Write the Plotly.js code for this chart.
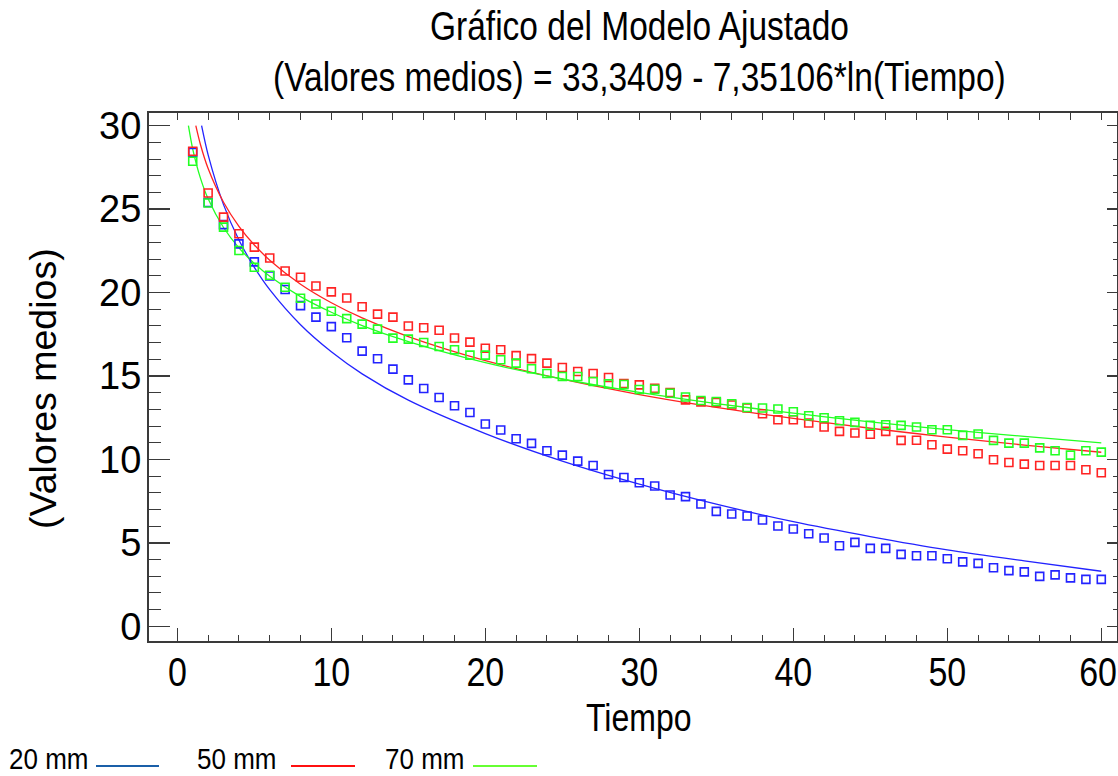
<!DOCTYPE html>
<html>
<head>
<meta charset="utf-8">
<script src="https://cdn.plot.ly/plotly-3.0.1.min.js"></script>
<style>html,body{margin:0;padding:0;background:#fff;}#chart{width:1118px;height:776px;}</style>
</head>
<body>
<div id="chart"></div>
<script>
// ---- data ----
const tiempo = [1,2,3,4,5,6,7,8,9,10,11,12,13,14,15,16,17,18,19,20,21,22,23,24,25,26,27,28,29,30,
  31,32,33,34,35,36,37,38,39,40,41,42,43,44,45,46,47,48,49,50,51,52,53,54,55,56,57,58,59,60];
const seriesNames = ["20 mm", "50 mm", "70 mm"];
const valores20 = [28.40,25.40,24.07,22.92,21.84,21.00,20.18,19.22,18.53,17.96,17.29,16.49,16.03,15.41,14.77,14.25,13.71,13.22,12.81,12.12,
  11.76,11.24,10.96,10.52,10.26,9.90,9.64,9.10,8.92,8.60,8.41,7.87,7.77,7.33,6.89,6.73,6.61,6.37,6.01,5.83,
  5.55,5.29,4.83,5.03,4.67,4.67,4.31,4.23,4.23,4.05,3.86,3.77,3.51,3.34,3.26,2.99,3.08,2.90,2.81,2.81];
const valores50 = [28.47,25.97,24.52,23.52,22.72,22.07,21.29,20.92,20.39,20.04,19.67,19.15,18.71,18.53,18.00,17.89,17.74,17.28,17.03,16.66,
  16.57,16.22,16.04,15.77,15.51,15.27,15.15,14.91,14.55,14.47,14.27,14.01,13.57,13.45,13.41,13.26,13.08,12.74,12.38,12.38,
  12.18,11.94,11.68,11.58,11.51,11.68,11.14,11.15,10.88,10.62,10.52,10.34,9.98,9.82,9.72,9.64,9.64,9.64,9.38,9.20];
const valores70 = [27.87,25.37,23.92,22.52,21.52,21.04,20.32,19.66,19.31,18.88,18.44,18.11,17.81,17.27,17.21,17.01,16.77,16.57,16.25,16.25,
  15.97,15.77,15.43,15.15,14.97,14.97,14.67,14.53,14.49,14.19,14.21,13.97,13.74,13.53,13.47,13.34,13.11,13.08,13.02,12.86,
  12.62,12.50,12.32,12.22,12.05,12.08,12.04,11.94,11.78,11.78,11.44,11.52,11.14,10.98,10.98,10.69,10.52,10.26,10.52,10.44];

// fitted curves, read at sample times
const ajusteT20 = [1.575,2,3,4,5,6,8,10,12,15,20,25,30,35,40,45,50,55,60];
const ajuste20  = [30.0,28.25,25.27,23.15,21.51,20.17,18.07,16.45,15.13,13.55,11.55,9.90,8.52,7.32,6.27,5.38,4.58,3.92,3.30];
const ajusteT50 = [1.2,1.5,2,3,4,5,6,8,10,12,15,20,25,30,35,40,45,50,55,60];
const ajuste50  = [30.0,28.87,27.43,25.41,23.97,22.85,21.94,20.50,19.39,18.48,17.36,15.92,14.81,13.89,13.12,12.46,11.87,11.34,10.86,10.43];
const ajusteT70 = [0.72,1,1.5,2,3,4,5,6,8,10,12,15,20,25,30,35,40,45,50,55,60];
const ajuste70  = [30.0,28.6,26.86,25.62,23.90,22.68,21.74,20.98,19.76,18.82,18.02,17.06,15.80,14.82,14.02,13.35,12.77,12.25,11.79,11.38,10.99];

const xTicks = [0,10,20,30,40,50,60];
const yTicks = [0,5,10,15,20,25,30];
const titulo1 = "Gráfico del Modelo Ajustado";
const titulo2 = "(Valores medios) = 33,3409 - 7,35106*ln(Tiempo)";
const tituloX = "Tiempo";
const tituloY = "(Valores medios)";

// ---- styling ----
const colores = ["#2323ff", "#ff2323", "#23ff23"];
const coloresLeyenda = ["#1a5fa8", "#ff1010", "#66ff33"];
const FONT = "'Liberation Sans', Arial, sans-serif";
const STRETCH = 1.2;        // the reference draws these texts tall and narrow
const STRETCH_LEG = 1.12;
const W = 1118, H = 776, L = 149, R = 1, T = 113, B = 135;
const PW = W - L - R, PH = H - T - B;
const fx = px => (px - L) / PW;
const fy = py => (H - B - py) / PH;

const lineTraces = [[ajusteT20, ajuste20], [ajusteT50, ajuste50], [ajusteT70, ajuste70]].map((d, i) => ({
  x: d[0], y: d[1], type: "scatter", mode: "lines", name: seriesNames[i],
  line: {color: colores[i], width: 1.3, shape: "spline", smoothing: 0.8},
  showlegend: false, hoverinfo: "skip"
}));
const markerTraces = [valores20, valores50, valores70].map((v, i) => ({
  x: tiempo, y: v, type: "scatter", mode: "markers", name: seriesNames[i],
  marker: {symbol: "square-open", size: 8, color: colores[i], line: {width: 1.6, color: colores[i]}},
  showlegend: false
}));
const dummy = {x: [], y: [], xaxis: "x2", yaxis: "y2", type: "scatter", mode: "markers", showlegend: false};

const axisColor = "#3a3a3a";
const layout = {
  width: W, height: H,
  margin: {l: L, r: R, t: T, b: B, pad: 0},
  paper_bgcolor: "#fff", plot_bgcolor: "#fff",
  showlegend: false,
  xaxis: {
    range: [-1.84, 61.02], tickvals: xTicks, ticktext: xTicks.map(String),
    ticks: "inside", ticklen: 13, tickwidth: 1.5, tickcolor: axisColor,
    minor: {dtick: 2, tick0: 0, ticks: "inside", ticklen: 6, tickwidth: 1, tickcolor: axisColor},
    showline: true, linecolor: axisColor, linewidth: 2, showgrid: false, zeroline: false,
    tickfont: {family: FONT, size: 34, color: "#000"}, ticklabelstandoff: 0, ticklabeloverflow: "allow"
  },
  yaxis: {
    range: [-0.88, 30.76], tickvals: yTicks, ticktext: yTicks.map(String),
    ticks: "inside", ticklen: 21, tickwidth: 1.5, tickcolor: axisColor,
    minor: {dtick: 1, tick0: 0, ticks: "inside", ticklen: 12, tickwidth: 1, tickcolor: axisColor},
    showline: true, linecolor: axisColor, linewidth: 2, showgrid: false, zeroline: false,
    tickfont: {family: FONT, size: 38, color: "#000"}, ticklabelstandoff: -2, ticklabeloverflow: "allow"
  },
  xaxis2: {
    overlaying: "x", side: "top", anchor: "y2", range: [-1.84, 61.02],
    tickvals: xTicks, ticks: "inside", ticklen: 7, tickwidth: 1.2, tickcolor: axisColor,
    minor: {dtick: 2, tick0: 0, ticks: "inside", ticklen: 7, tickwidth: 1, tickcolor: axisColor},
    showticklabels: false, showline: true, linecolor: axisColor, linewidth: 2, showgrid: false, zeroline: false
  },
  yaxis2: {
    overlaying: "y", side: "right", anchor: "x2", range: [-0.88, 30.76],
    tickvals: yTicks, ticks: "inside", ticklen: 10, tickwidth: 1.5, tickcolor: axisColor,
    minor: {dtick: 1, tick0: 0, ticks: "inside", ticklen: 4, tickwidth: 1, tickcolor: axisColor},
    showticklabels: false, showline: true, linecolor: axisColor, linewidth: 2, showgrid: false, zeroline: false
  },
  annotations: [
    {text: titulo1, xref: "paper", yref: "paper", x: fx(639), y: fy(26.5), xanchor: "center", yanchor: "middle", showarrow: false, font: {family: FONT, size: 33.5, color: "#000"}},
    {text: titulo2, xref: "paper", yref: "paper", x: fx(639), y: fy(78), xanchor: "center", yanchor: "middle", showarrow: false, font: {family: FONT, size: 33.5, color: "#000"}},
    {text: tituloX, xref: "paper", yref: "paper", x: fx(639), y: fy(718), xanchor: "center", yanchor: "middle", showarrow: false, font: {family: FONT, size: 32, color: "#000"}},
    {text: tituloY, xref: "paper", yref: "paper", x: fx(43), y: fy(389), xanchor: "center", yanchor: "middle", textangle: -90, showarrow: false, font: {family: FONT, size: 37.5, color: "#000"}},
    {text: seriesNames[0], xref: "paper", yref: "paper", x: fx(7), y: fy(759), xanchor: "left", yanchor: "middle", showarrow: false, font: {family: FONT, size: 26, color: "#000"}},
    {text: seriesNames[1], xref: "paper", yref: "paper", x: fx(195), y: fy(759), xanchor: "left", yanchor: "middle", showarrow: false, font: {family: FONT, size: 26, color: "#000"}},
    {text: seriesNames[2], xref: "paper", yref: "paper", x: fx(383), y: fy(759), xanchor: "left", yanchor: "middle", showarrow: false, font: {family: FONT, size: 26, color: "#000"}}
  ],
  shapes: [
    {type: "line", xref: "paper", yref: "paper", x0: fx(96), x1: fx(159), y0: fy(766), y1: fy(766), line: {color: coloresLeyenda[0], width: 2}},
    {type: "line", xref: "paper", yref: "paper", x0: fx(291), x1: fx(355), y0: fy(766), y1: fy(766), line: {color: coloresLeyenda[1], width: 2}},
    {type: "line", xref: "paper", yref: "paper", x0: fx(473), x1: fx(537), y0: fy(766), y1: fy(766), line: {color: coloresLeyenda[2], width: 2}}
  ]
};

const condensed = [titulo1, titulo2, tituloX];
function stretchText(el, s) {
  const bb = el.getBBox();
  const cy = bb.y + bb.height / 2;
  const t = el.getAttribute("transform") || "";
  el.setAttribute("transform", (t + " translate(0," + cy + ") scale(1," + s + ") translate(0," + (-cy) + ")").trim());
}
function keepInside(el) {
  const r = el.getBoundingClientRect();
  const over = r.right - (W - 1);
  if (over > 0) {
    const t = el.getAttribute("transform") || "";
    el.setAttribute("transform", (t + " translate(" + (-over) + ",0)").trim());
  }
}

Plotly.newPlot("chart", [...lineTraces, ...markerTraces, dummy], layout, {displayModeBar: false, staticPlot: true})
  .then(gd => {
    gd.querySelectorAll("g.xtick text").forEach(el => { stretchText(el, STRETCH); keepInside(el); });
    gd.querySelectorAll("text.annotation-text").forEach(el => {
      if (condensed.indexOf(el.textContent) >= 0) stretchText(el, STRETCH);
      else if (seriesNames.indexOf(el.textContent) >= 0) stretchText(el, STRETCH_LEG);
    });
  });
</script>
</body>
</html>
